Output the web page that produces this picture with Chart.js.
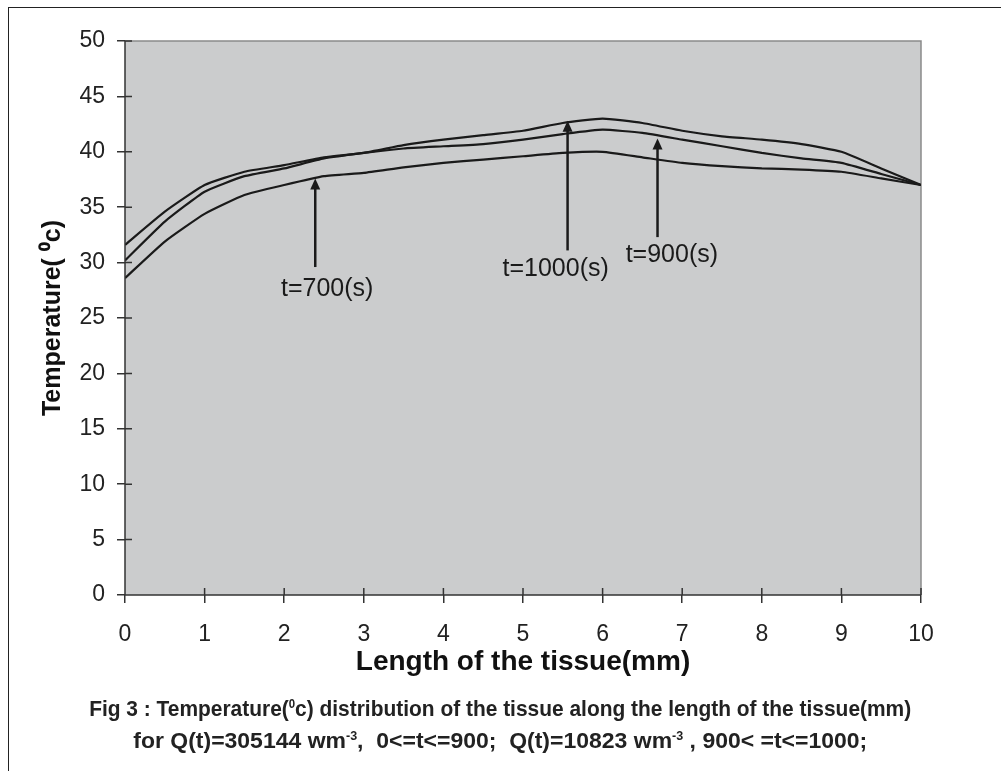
<!DOCTYPE html>
<html>
<head>
<meta charset="utf-8">
<script src="https://cdn.jsdelivr.net/npm/chart.js@4/dist/chart.umd.min.js"></script>
<style>
  html, body { margin: 0; padding: 0; background: #fff; }
  #wrap { position: relative; width: 1001px; height: 771px; overflow: hidden; }
  #frame { position: absolute; left: 8px; top: 7px; width: 1010px; height: 780px; border: 1px solid #222; box-sizing: border-box; }
  canvas { position: absolute; left: 0; top: 0; }
  .cap { position: absolute; left: 0; width: 1001px; text-align: center; font-family: "Liberation Sans Narrow", "Arial Narrow", "Liberation Sans", Arial, sans-serif; font-weight: bold; font-size: 22px; color: #222; white-space: nowrap; }
  .cap span { display: inline-block; }
  .cap sup { font-size: 12px; }
</style>
</head>
<body>
<div id="wrap">
  <div id="frame"></div>
  <canvas id="chartTemp" width="1001" height="771"></canvas>
  <div class="cap" style="top:696px"><span id="cap1">Fig 3 : Temperature(<sup>0</sup>c) distribution of the tissue along the length of the tissue(mm)</span></div>
  <div class="cap" style="top:728px"><span id="cap2">for Q(t)=305144 wm<sup>-3</sup>,&nbsp; 0&lt;=t&lt;=900;&nbsp; Q(t)=10823 wm<sup>-3</sup> , 900&lt; =t&lt;=1000;</span></div>
</div>
<script>
// length of tissue (mm)
const laenge = [0, 0.5, 1, 1.5, 2, 2.5, 3, 3.5, 4, 4.5, 5, 5.5, 6, 6.5, 7, 7.5, 8, 8.5, 9, 9.5, 10];

const t1000 = [31.6, 34.6, 37.0, 38.2, 38.8, 39.5, 39.9, 40.6, 41.1, 41.5, 41.9, 42.6, 43.0, 42.6, 41.9, 41.4, 41.1, 40.7, 40.0, 38.5, 37.0];
const t900  = [30.2, 33.7, 36.4, 37.8, 38.5, 39.4, 39.9, 40.3, 40.5, 40.7, 41.1, 41.6, 42.0, 41.7, 41.1, 40.5, 39.9, 39.4, 39.0, 38.0, 37.0];
const t700  = [28.6, 31.9, 34.4, 36.1, 37.0, 37.8, 38.1, 38.6, 39.0, 39.3, 39.6, 39.9, 40.0, 39.5, 39.0, 38.7, 38.5, 38.4, 38.2, 37.6, 37.0];

// arrow labels: [text, arrow x, tail y, tip y, label x, label y]
const pfeile = [
  ['t=700(s)', 2.39, 29.6, 37.6, 2.54, 27.6],
  ['t=1000(s)', 5.56, 31.1, 42.8, 5.41, 29.4],
  ['t=900(s)', 6.69, 32.3, 41.2, 6.87, 30.7]
];

const yTicks = [0, 5, 10, 15, 20, 25, 30, 35, 40, 45, 50];

const FONT = "'Liberation Sans', Arial, sans-serif";
const INK = '#1a1a1a';

function serie(werte) {
  return laenge.map((x, i) => ({ x: x, y: werte[i] }));
}

const hintergrund = {
  id: 'hintergrund',
  beforeDraw(chart) {
    const { ctx, chartArea: a } = chart;
    ctx.save();
    ctx.fillStyle = '#cbcccd';
    ctx.fillRect(a.left, a.top, a.right - a.left, a.bottom - a.top);
    ctx.strokeStyle = '#8a8a8a';
    ctx.lineWidth = 1.5;
    ctx.beginPath();
    ctx.moveTo(a.left, a.top);
    ctx.lineTo(a.right, a.top);
    ctx.lineTo(a.right, a.bottom);
    ctx.stroke();
    ctx.restore();
  },
  afterDraw(chart) {
    const { ctx, chartArea: a, scales } = chart;
    ctx.save();
    // axes + inner tick marks
    ctx.strokeStyle = '#333';
    ctx.lineWidth = 1.5;
    ctx.beginPath();
    ctx.moveTo(a.left, a.top);
    ctx.lineTo(a.left, a.bottom);
    ctx.lineTo(a.right, a.bottom);
    yTicks.forEach(v => {
      const y = scales.y.getPixelForValue(v);
      ctx.moveTo(a.left, y);
      ctx.lineTo(a.left + 7, y);
    });
    for (let v = 0; v <= 10; v++) {
      const x = scales.x.getPixelForValue(v);
      ctx.moveTo(x, a.bottom);
      ctx.lineTo(x, a.bottom - 7);
    }
    ctx.stroke();

    // arrows and labels
    ctx.strokeStyle = INK;
    ctx.fillStyle = INK;
    ctx.lineWidth = 2.5;
    ctx.font = '25px ' + FONT;
    ctx.textAlign = 'center';
    ctx.textBaseline = 'middle';
    pfeile.forEach(([text, xv, von, bis, lx, ly]) => {
      const x = scales.x.getPixelForValue(xv);
      const y0 = scales.y.getPixelForValue(von);
      const y1 = scales.y.getPixelForValue(bis);
      ctx.beginPath();
      ctx.moveTo(x, y0);
      ctx.lineTo(x, y1 + 8);
      ctx.stroke();
      ctx.beginPath();
      ctx.moveTo(x, y1);
      ctx.lineTo(x - 5, y1 + 11);
      ctx.lineTo(x + 5, y1 + 11);
      ctx.closePath();
      ctx.fill();
      ctx.fillText(text, scales.x.getPixelForValue(lx), scales.y.getPixelForValue(ly));
    });
    ctx.restore();
  }
};

function linie(label, werte) {
  return {
    label,
    data: serie(werte),
    borderColor: INK,
    borderWidth: 2.2,
    pointRadius: 0,
    tension: 0.15,
    fill: false
  };
}

new Chart(document.getElementById('chartTemp'), {
  type: 'line',
  data: {
    datasets: [
      linie('t=1000(s)', t1000),
      linie('t=900(s)', t900),
      linie('t=700(s)', t700)
    ]
  },
  options: {
    responsive: false,
    animation: false,
    layout: { padding: { left: 0, right: 80, top: 41, bottom: 0 } },
    plugins: { legend: { display: false }, tooltip: { enabled: false } },
    scales: {
      x: {
        type: 'linear',
        min: 0,
        max: 10,
        afterFit: s => { s.height = 176; },
        grid: { display: true, drawOnChartArea: false, tickLength: 8, color: '#333', lineWidth: 1.5 },
        border: { display: false },
        ticks: { stepSize: 1, padding: 18, color: '#222', font: { family: FONT, size: 23 } },
        title: {
          display: true,
          text: 'Length of the tissue(mm)',
          color: '#111',
          font: { family: FONT, size: 28, weight: 'bold' },
          padding: { top: 0, bottom: 92 }
        }
      },
      y: {
        min: 0,
        max: 50,
        afterFit: s => { s.width = 125; },
        grid: { display: true, drawOnChartArea: false, tickLength: 8, color: '#333', lineWidth: 1.5 },
        border: { display: false },
        ticks: { stepSize: 5, padding: 12, color: '#222', font: { family: FONT, size: 23 } },
        title: {
          display: true,
          text: 'Temperature( \u2070c)',
          color: '#111',
          font: { family: FONT, size: 25, weight: 'bold' },
          padding: { top: 38, bottom: 0 }
        }
      }
    }
  },
  plugins: [hintergrund]
});

// squeeze caption lines to the widths in the figure
function passen(id, breite) {
  const el = document.getElementById(id);
  const w = el.getBoundingClientRect().width;
  el.style.transform = 'scaleX(' + (breite / w) + ')';
}
passen('cap1', 822);
passen('cap2', 734);
</script>
</body>
</html>
